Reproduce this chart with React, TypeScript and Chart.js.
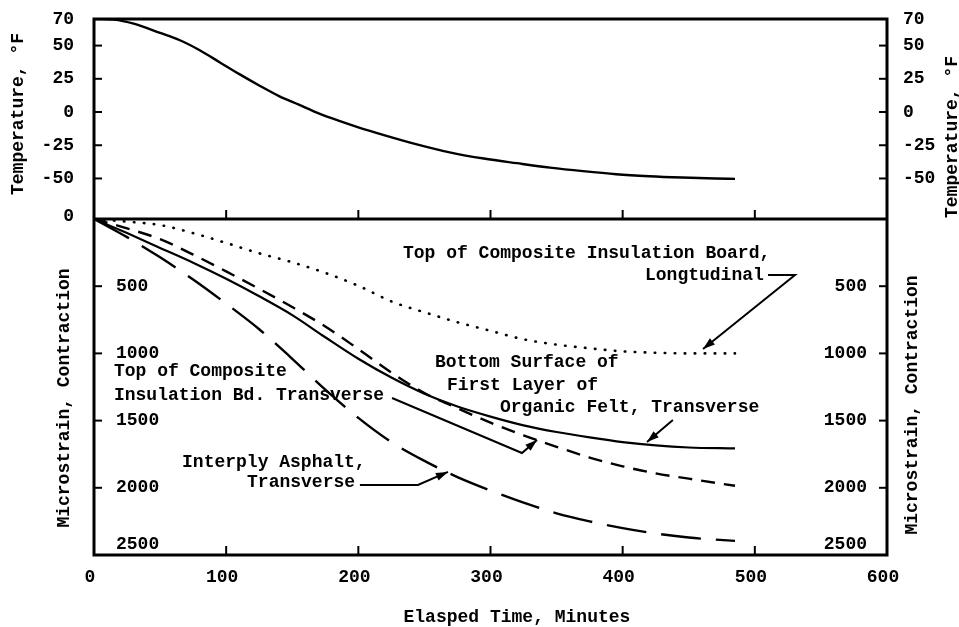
import React, { useEffect, useRef } from "react";
import { Chart, registerables } from "chart.js";

Chart.register(...registerables);

// ---------------- data ----------------
const timeTicks = [0, 100, 200, 300, 400, 500, 600];
const temperatureTicks = [-50, -25, 0, 25, 50, 70];
const strainTicks = [0, 500, 1000, 1500, 2000, 2500];

const temperatureTime = [0, 15, 30, 50, 65, 80, 95, 110, 125, 140, 155, 170, 185, 200, 220, 245, 270, 295, 320, 345, 370, 395, 420, 445, 470, 485];
const temperatureF = [70, 69.5, 66.5, 59.5, 54, 46.5, 37.5, 28.5, 20, 12, 5.5, -1, -6.5, -11.5, -17.5, -24.5, -30.5, -35, -38.5, -41.8, -44.5, -46.8, -48.3, -49.3, -50, -50.3];

const strainTime = [0, 25, 50, 75, 100, 125, 150, 175, 200, 225, 250, 275, 300, 325, 350, 375, 400, 425, 450, 485];
const boardLongitudinal = [0, 20, 45, 105, 178, 255, 322, 401, 497, 613, 694, 768, 832, 895, 935, 962, 985, 995, 1000, 1000];
const boardTransverse = [0, 70, 150, 265, 390, 520, 655, 800, 968, 1142, 1295, 1408, 1515, 1610, 1695, 1775, 1840, 1893, 1932, 1985];
const feltBottomTransverse = [0, 105, 215, 325, 445, 575, 715, 880, 1040, 1180, 1300, 1395, 1470, 1535, 1585, 1625, 1660, 1685, 1700, 1707];
const interplyAsphalt = [0, 135, 285, 450, 630, 820, 1040, 1270, 1480, 1660, 1800, 1920, 2020, 2110, 2190, 2250, 2300, 2340, 2370, 2395];

// ---------------- styling ----------------
const INK = "#000";
const FAMILY = '"Liberation Mono", "Courier New", monospace';
const FONT_SIZE = 18;
const FONT_WEIGHT = "bold";
const FONT_STR = `${FONT_WEIGHT} ${FONT_SIZE}px ${FAMILY}`;

// annotation text anchors (time, strain)
const notes = [
  { text: "Top of Composite Insulation Board,", t: 233.8, s: 253 },
  { text: "Longtudinal", t: 416.9, s: 417 },
  { text: "Bottom Surface of", t: 258, s: 1071 },
  { text: "First Layer of", t: 267, s: 1235 },
  { text: "Organic Felt, Transverse", t: 307.2, s: 1406 },
  { text: "Top of Composite", t: 15.1, s: 1138 },
  { text: "Insulation Bd. Transverse", t: 15.1, s: 1310 },
  { text: "Interply Asphalt,", t: 66.6, s: 1808 },
  { text: "Transverse", t: 115.8, s: 1964 },
];
const leaders: number[][][] = [
  [[510, 417], [530.4, 417], [460.8, 967]],
  [[438, 1496], [418.4, 1659]],
  [[225.5, 1332], [323.8, 1741], [335.2, 1644]],
  [[201.2, 1979], [245.1, 1979], [267.8, 1882]],
];

const pts = (xs: number[], ys: number[]) => xs.map((x, i) => ({ x, y: ys[i] }));

function arrowHead(ctx: CanvasRenderingContext2D, x0: number, y0: number, x1: number, y1: number) {
  const a = Math.atan2(y1 - y0, x1 - x0);
  const L = 12, W = 4;
  ctx.beginPath();
  ctx.moveTo(x1, y1);
  ctx.lineTo(x1 - L * Math.cos(a) + W * Math.sin(a), y1 - L * Math.sin(a) - W * Math.cos(a));
  ctx.lineTo(x1 - L * Math.cos(a) - W * Math.sin(a), y1 - L * Math.sin(a) + W * Math.cos(a));
  ctx.closePath();
  ctx.fill();
}

const decorPlugin = {
  id: "paperDecor",
  afterDraw(chart: any) {
    const { ctx, chartArea: a, scales } = chart;
    const xs = scales.x, yT = scales.yT, yS = scales.yS;
    const seg = (x0: number, y0: number, x1: number, y1: number) => {
      ctx.beginPath(); ctx.moveTo(x0, y0); ctx.lineTo(x1, y1); ctx.stroke();
    };
    ctx.save();
    ctx.strokeStyle = INK;
    ctx.fillStyle = INK;
    ctx.setLineDash([]);
    ctx.lineCap = "butt";
    // frame & separator
    ctx.lineWidth = 3;
    ctx.strokeRect(a.left, a.top, a.right - a.left, a.bottom - a.top);
    const mid = yS.top;
    seg(a.left, mid, a.right, mid);
    // inward ticks
    ctx.lineWidth = 2;
    temperatureTicks.forEach((v) => {
      const py = yT.getPixelForValue(v);
      seg(a.left, py, a.left + 8, py);
      seg(a.right - 8, py, a.right, py);
    });
    strainTicks.forEach((v) => {
      const py = yS.getPixelForValue(v);
      seg(a.left, py, a.left + 8, py);
      seg(a.right - 8, py, a.right, py);
    });
    timeTicks.forEach((v) => {
      const px = xs.getPixelForValue(v);
      seg(px, a.bottom, px, a.bottom - 9);
      seg(px, mid, px, mid - 9);
    });

    ctx.font = FONT_STR;
    // strain zero label, outside on the left
    ctx.textAlign = "right";
    ctx.textBaseline = "middle";
    ctx.fillText("0", a.left - 20, yS.getPixelForValue(0) - 3);

    // axis titles
    const rot = (text: string, cx: number, cy: number) => {
      ctx.save();
      ctx.translate(cx, cy);
      ctx.rotate(-Math.PI / 2);
      ctx.textAlign = "center";
      ctx.textBaseline = "middle";
      ctx.fillText(text, 0, 0);
      ctx.restore();
    };
    const midT = (yT.top + yT.bottom) / 2;
    const midS = (yS.top + yS.bottom) / 2;
    rot("Temperature, \u00B0F", a.left - 76, midT - 5);
    rot("Microstrain, Contraction", a.left - 30, midS + 11);
    rot("Temperature, \u00B0F", a.right + 65, midT + 18);
    rot("Microstrain, Contraction", a.right + 25, midS + 18);
    ctx.textAlign = "center";
    ctx.textBaseline = "middle";
    ctx.fillText("Elasped Time, Minutes", xs.getPixelForValue(320), a.bottom + 62);

    // annotations
    ctx.textAlign = "left";
    ctx.textBaseline = "middle";
    notes.forEach((n) => ctx.fillText(n.text, xs.getPixelForValue(n.t), yS.getPixelForValue(n.s)));
    ctx.lineWidth = 2;
    leaders.forEach((path) => {
      const p = path.map(([t, s]) => [xs.getPixelForValue(t), yS.getPixelForValue(s)]);
      ctx.beginPath();
      ctx.moveTo(p[0][0], p[0][1]);
      for (let i = 1; i < p.length; i++) ctx.lineTo(p[i][0], p[i][1]);
      ctx.stroke();
      const n = p.length;
      arrowHead(ctx, p[n - 2][0], p[n - 2][1], p[n - 1][0], p[n - 1][1]);
    });
    ctx.restore();
  },
};

const tickFont = { family: FAMILY, size: FONT_SIZE, weight: FONT_WEIGHT };

const fitTo = (w: number | null, h: number | null) => (s: any) => {
  if (w !== null) s.width = w;
  if (h !== null) s.height = h;
  s.paddingTop = 0;
  s.paddingBottom = 0;
  s.paddingLeft = 0;
  s.paddingRight = 0;
};

export default function App() {
  const ref = useRef<HTMLCanvasElement>(null);
  useEffect(() => {
    const canvas = ref.current;
    if (!canvas) return;
    const common = { borderColor: INK, pointRadius: 0, fill: false, cubicInterpolationMode: "monotone" as const };
    const chart = new Chart(canvas, {
      type: "line",
      data: {
        datasets: [
          { ...common, label: "Temperature", data: pts(temperatureTime, temperatureF), yAxisID: "yT", borderWidth: 2.4 },
          { ...common, label: "Top of Composite Insulation Board, Longtudinal", data: pts(strainTime, boardLongitudinal), yAxisID: "yS", borderWidth: 2.6, borderDash: [0.5, 9.5], borderCapStyle: "round" },
          { ...common, label: "Top of Composite Insulation Bd. Transverse", data: pts(strainTime, boardTransverse), yAxisID: "yS", borderWidth: 2.4, borderDash: [14, 9] },
          { ...common, label: "Bottom Surface of First Layer of Organic Felt, Transverse", data: pts(strainTime, feltBottomTransverse), yAxisID: "yS", borderWidth: 2.2 },
          { ...common, label: "Interply Asphalt, Transverse", data: pts(strainTime, interplyAsphalt), yAxisID: "yS", borderWidth: 2.4, borderDash: [40, 15] },
        ],
      },
      options: {
        responsive: false,
        animation: false,
        devicePixelRatio: 1,
        layout: { padding: { top: 19, left: 0, right: 0, bottom: 0 } },
        plugins: { legend: { display: false }, tooltip: { enabled: false } },
        scales: {
          x: {
            type: "linear",
            position: "bottom",
            min: 0,
            max: 600,
            afterBuildTicks: (s: any) => { s.ticks = timeTicks.map((v) => ({ value: v })); },
            afterFit: fitTo(null, 72),
            grid: { display: false, drawTicks: false },
            border: { display: false },
            ticks: { font: tickFont, color: INK, padding: 12, labelOffset: -4, autoSkip: false, maxRotation: 0 },
          },
          yS: {
            type: "linear",
            position: "left",
            stack: "left",
            stackWeight: 336,
            min: 0,
            max: 2500,
            reverse: true,
            afterBuildTicks: (s: any) => { s.ticks = strainTicks.map((v) => ({ value: v })); },
            afterFit: fitTo(94, null),
            grid: { display: false, drawTicks: false },
            border: { display: false },
            ticks: {
              font: tickFont, color: INK, mirror: true, padding: 22, autoSkip: false,
              callback: (v: any) => (v === 0 ? "" : v === 2500 ? ["2500", ""] : String(v)),
            },
          },
          yT: {
            type: "linear",
            position: "left",
            stack: "left",
            stackWeight: 200,
            min: -80.5,
            max: 70,
            afterBuildTicks: (s: any) => { s.ticks = temperatureTicks.map((v) => ({ value: v })); },
            afterFit: fitTo(94, null),
            grid: { display: false, drawTicks: false },
            border: { display: false },
            ticks: { font: tickFont, color: INK, padding: 20, autoSkip: false },
          },
          yT2: {
            type: "linear",
            position: "right",
            stack: "right",
            stackWeight: 200,
            min: -80.5,
            max: 70,
            afterBuildTicks: (s: any) => { s.ticks = temperatureTicks.map((v) => ({ value: v })); },
            afterFit: fitTo(72, null),
            grid: { display: false, drawTicks: false },
            border: { display: false },
            ticks: { font: tickFont, color: INK, padding: 16, autoSkip: false },
          },
          yS2: {
            type: "linear",
            position: "right",
            stack: "right",
            stackWeight: 336,
            min: 0,
            max: 2500,
            reverse: true,
            afterBuildTicks: (s: any) => { s.ticks = strainTicks.map((v) => ({ value: v })); },
            afterFit: fitTo(72, null),
            grid: { display: false, drawTicks: false },
            border: { display: false },
            ticks: {
              font: tickFont, color: INK, mirror: true, padding: -20, autoSkip: false,
              callback: (v: any) => (v === 0 ? "" : v === 2500 ? ["2500", ""] : String(v)),
            },
          },
        },
      },
      plugins: [decorPlugin],
    } as any);
    return () => chart.destroy();
  }, []);
  return (
    <div style={{ position: "fixed", left: 0, top: 0, width: 959, height: 627, background: "#fff" }}>
      <canvas ref={ref} width={959} height={627} style={{ display: "block", width: 959, height: 627 }} />
    </div>
  );
}
